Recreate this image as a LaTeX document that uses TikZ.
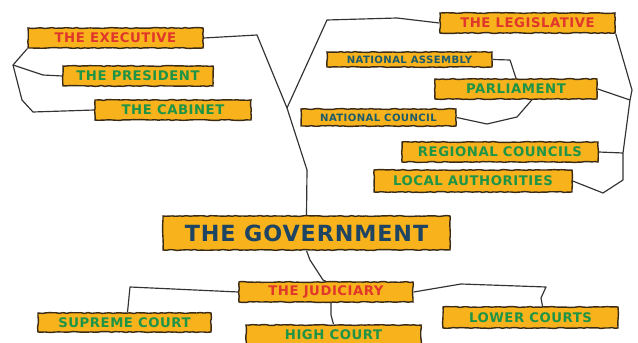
\documentclass[tikz,border=0pt]{standalone}
\usepackage{fontspec}
\setmainfont{DejaVu Sans}
\newfontfamily\plankfont[LetterSpace=4]{DejaVu Sans}
\usepackage{tikz}
\usetikzlibrary{decorations.pathmorphing}
\def\pix{0.03cm}

\definecolor{plankfill}{HTML}{F7B21C}
\definecolor{plankedge}{HTML}{3B2A14}
\definecolor{headred}{HTML}{E0362C}
\definecolor{subgreen}{HTML}{1E9447}
\definecolor{subteal}{HTML}{1C5B6B}
\definecolor{govnavy}{HTML}{1D4463}

\tikzset{
  plank/.style={draw=plankedge, fill=plankfill, line width=1.2pt, inner sep=0pt,
    decorate, decoration={random steps, segment length=3pt, amplitude=0.4pt},
    font=\plankfont\bfseries\fontsize{11.3}{12}\selectfont},
  head/.style={plank, text=headred},
  sub/.style={plank, text=subgreen},
  subt/.style={plank, text=subteal, font=\plankfont\bfseries\fontsize{8.6}{9}\selectfont},
  link/.style={draw=black!80, line width=1pt, line join=round}
}

\begin{document}
\pgfmathsetseed{11}
\begin{tikzpicture}[x=\pix, y=-\pix]

\useasboundingbox (0,0) rectangle (638,343);

 % the three branches
 \node[head, minimum width=175*\pix, minimum height=20*\pix] (exec) at (115.5,38) {THE EXECUTIVE};
 \node[head, minimum width=175*\pix, minimum height=20*\pix] (legis) at (527.5,23) {THE LEGISLATIVE};
 \node[head, minimum width=174*\pix, minimum height=20*\pix] (jud) at (326,292) {THE JUDICIARY};

 % executive
 \node[sub, minimum width=150*\pix, minimum height=20*\pix] (pres) at (138,76) {THE PRESIDENT};
 \node[sub, minimum width=156*\pix, minimum height=20*\pix] (cab) at (173,110) {THE CABINET};

 % legislative
 \node[subt, minimum width=165*\pix, minimum height=15*\pix] (nass) at (409.5,59.5) {NATIONAL ASSEMBLY};
 \node[sub, minimum width=162*\pix, minimum height=20*\pix] (parl) at (516,89) {PARLIAMENT};
 \node[subt, minimum width=155*\pix, minimum height=17*\pix] (ncou) at (378.5,117.5) {NATIONAL COUNCIL};
 \node[sub, minimum width=196*\pix, minimum height=20*\pix] (reg) at (500,152) {REGIONAL COUNCILS};
 \node[sub, minimum width=198*\pix, minimum height=22*\pix] (loc) at (473,181) {LOCAL AUTHORITIES};

 % government
 \node[plank, text=govnavy, minimum width=287*\pix, minimum height=34*\pix,
   font=\plankfont\bfseries\fontsize{19}{21}\selectfont] (gov) at (306.5,233) {THE GOVERNMENT};

 % judiciary
 \node[sub, minimum width=173*\pix, minimum height=19*\pix] (sup) at (124.5,322.5) {SUPREME COURT};
 \node[sub, minimum width=175*\pix, minimum height=20*\pix] (high) at (333.5,335) {HIGH COURT};
 \node[sub, minimum width=175*\pix, minimum height=21*\pix] (lower) at (530.5,317.5) {LOWER COURTS};

 % trunk
 \draw[link] (exec.east) -- (257,35) -- (287,108) coordinate (hub) -- (307,170) -- (gov.north);
 \draw[link] (hub) -- (327,20) -- (397,18) -- (legis.west);

 % executive bracket
 \draw[link] (exec.south west) -- (13,65) coordinate (lb) -- (43,75) -- (pres.west);
 \draw[link] (lb) -- (22,100) -- (33,112) -- (cab.west);

 % legislative
 \draw[link] (nass.east) -- (510,60) -- (parl.north);
 \draw[link] ([xshift=16*\pix]parl.south) -- (517,117) -- (487,124) -- (ncou.east);
 \draw[link] (legis.south east) -- (632,90) -- (630,100) coordinate (rb) -- (623,153) coordinate (rc)
   -- (623,180) -- (603,193) -- (loc.east);
 \draw[link] (parl.east) -- (rb);
 \draw[link] (reg.east) -- (rc);

 % judiciary
 \draw[link] (gov.south) -- (310,260) -- (323,280) -- (jud.north);
 \draw[link] (jud.west) -- (130,287) -- ([xshift=3*\pix]sup.north);
 \draw[link] ([xshift=5*\pix]jud.south) -- (331,315) -- (high.north);
 \draw[link] (jud.east) -- (461,284) -- (546,287) -- (541,298) -- ([xshift=12*\pix]lower.north);

\end{tikzpicture}
\end{document}
